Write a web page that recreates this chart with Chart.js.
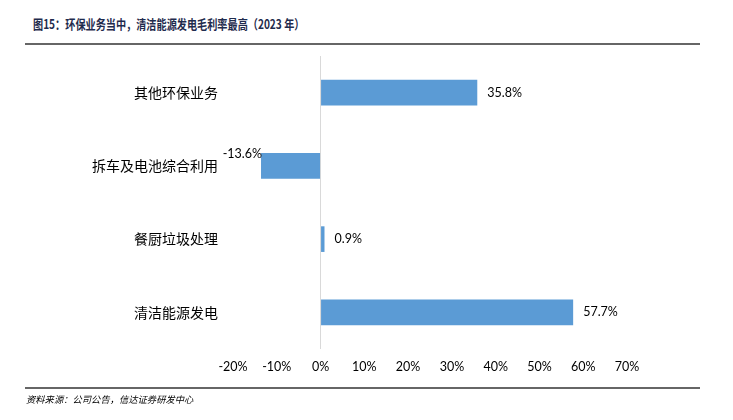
<!DOCTYPE html>
<html lang="zh">
<head>
    <meta charset="UTF-8">
    <title>环保业务毛利率</title>
    <script src="https://cdn.jsdelivr.net/npm/chart.js"></script>
    <style>
    body { margin: 0; background: #fff; }
    #wrap { position: relative; width: 733px; height: 420px; }
    #title {
        position: absolute; left: 33px; top: 14px;
        font: bold 13px "Noto Sans CJK SC", sans-serif;
        color: #1f2b4d; white-space: nowrap;
        transform: scaleX(0.78); transform-origin: left center; /* 原图标题字体偏窄 */
    }
    .rule { position: absolute; left: 25px; width: 675px; height: 2px; background: #666; }
    #source {
        position: absolute; left: 26px; top: 392px;
        font: italic 9.3px "Noto Sans CJK SC", sans-serif;
        color: #000; white-space: nowrap;
    }
    canvas { position: absolute; left: 0; top: 0; }
</style>
</head>
<body>
<div id="wrap">
    <div id="title">图15：环保业务当中，清洁能源发电毛利率最高（2023 年）</div>
    <div class="rule" style="top:43px"></div>
    <canvas id="marginChart" width="733" height="420"></canvas>
    <div class="rule" style="top:387px"></div>
    <div id="source">资料来源：公司公告，信达证券研发中心</div>
</div>
<script>
    // 业务类别与 2023 年毛利率（%）
    const categories = ['其他环保业务', '拆车及电池综合利用', '餐厨垃圾处理', '清洁能源发电'];
    const grossMargin = [35.8, -13.6, 0.9, 57.7];
    const axisMin = -20;
    const axisMax = 70;

    // 数据标签：正值放在柱末端右侧，负值放在柱末端左上方
    const barLabels = {
        id: 'barLabels',
        afterDatasetsDraw(chart) {
            const ctx = chart.ctx;
            const meta = chart.getDatasetMeta(0);
            ctx.save();
            ctx.font = '12.5px Lato, "Noto Sans", sans-serif';
            ctx.fillStyle = '#000';
            meta.data.forEach((bar, i) => {
                const v = grossMargin[i];
                const text = v.toFixed(1) + '%';
                if (v >= 0) {
                    ctx.textAlign = 'left';
                    ctx.textBaseline = 'middle';
                    ctx.fillText(text, bar.x + 10, bar.y);
                } else {
                    ctx.textAlign = 'right';
                    ctx.textBaseline = 'middle';
                    ctx.fillText(text, bar.x + 1, bar.y - bar.height / 2 + 1);
                }
            });
            ctx.restore();
        }
    };

    new Chart(document.getElementById('marginChart'), {
        type: 'bar',
        data: {
            labels: categories,
            datasets: [{
                data: grossMargin,
                backgroundColor: '#5b9bd5',
                categoryPercentage: 0.35,
                barPercentage: 1
            }]
        },
        options: {
            indexAxis: 'y',
            responsive: false,
            animation: false,
            layout: { padding: { top: 56, right: 106, left: 0, bottom: 0 } },
            plugins: { legend: { display: false }, tooltip: { enabled: false } },
            scales: {
                x: {
                    min: axisMin,
                    max: axisMax,
                    ticks: {
                        stepSize: 10,
                        padding: 10,
                        color: '#000',
                        font: { family: 'Lato, "Noto Sans", sans-serif', size: 12.5 },
                        callback: v => v + '%'
                    },
                    grid: {
                        drawTicks: false,
                        color: c => c.tick && c.tick.value === 0 ? '#d9d9d9' : 'rgba(0,0,0,0)'
                    },
                    border: { display: false },
                    afterFit: s => { s.height = 71; }
                },
                y: {
                    ticks: {
                        padding: 15,
                        color: '#000',
                        font: { family: '"Noto Sans CJK SC", sans-serif', size: 14 }
                    },
                    grid: { display: false, drawTicks: false },
                    border: { display: false },
                    afterFit: s => { s.width = 233; }
                }
            }
        },
        plugins: [barLabels]
    });
</script>
</body>
</html>
